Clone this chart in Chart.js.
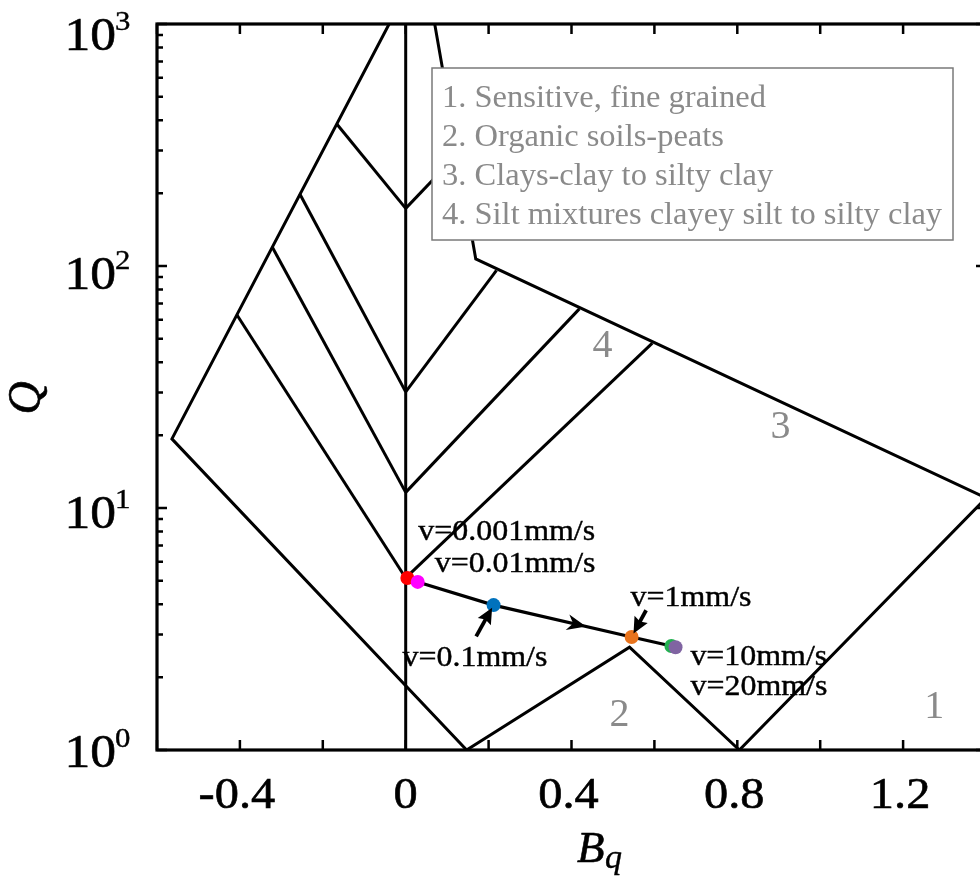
<!DOCTYPE html>
<html><head><meta charset="utf-8">
<script src="https://cdn.jsdelivr.net/npm/chart.js@4.4.0/dist/chart.umd.min.js"></script>
<style>
html,body{margin:0;padding:0;overflow:hidden;background:#fff;width:980px;height:878px}
#wrap{position:relative;width:1000px;height:878px}
canvas{display:block}
</style></head>
<body><div id="wrap"><canvas id="c" width="1000" height="878"></canvas></div>
<script>
// ---------------- data ----------------
// outer boundary polyline of the Robertson Bq chart
const outerBq = [-0.04, -0.564, 0.147, 0.540, 0.805, 1.40, 0.169, 0.070];
const outerQ  = [1000, 19.3, 1, 2.66, 1, 11.0, 107, 1000];
// vertical Bq = 0 line
const zeroLineBq = [0, 0];
const zeroLineQ  = [1, 1000];
// left fan lines: start on left boundary, end on Bq = 0
const leftFanBq = [-0.407, -0.322, -0.2554, -0.1663];
const leftFanQ  = [62.7, 119.8, 198.4, 386];
const fanVertexQ = [5.14, 11.6, 30.2, 173];
// right fan lines: start on Bq = 0, end on upper boundary
const rightFanBq = [0.595, 0.419, 0.219, 0.1246];
const rightFanQ  = [48.0, 66.5, 96.0, 289.5];
// test path points
const velocityLabels = ['v=0.001mm/s','v=0.01mm/s','v=0.1mm/s','v=1mm/s','v=10mm/s','v=20mm/s'];
const testBq = [0.004, 0.029, 0.212, 0.545, 0.641, 0.651];
const testQ  = [5.14, 4.95, 3.97, 2.93, 2.69, 2.66];
const pointColors = ['#ff0000','#ff00ff','#0072bd','#e8731c','#22b050','#8064a2'];
// zones
const zoneNumbers = ['1','2','3','4'];
const zoneNames = ['1. Sensitive, fine grained','2. Organic soils-peats','3. Clays-clay to silty clay','4. Silt mixtures clayey silt to silty clay'];
// ticks
const xTickValues = [-0.6,-0.4,-0.2,0,0.2,0.4,0.6,0.8,1.0,1.2,1.4];
const xTickLabels = ['','-0.4','','0','','0.4','','0.8','','1.2',''];
const yDecades = [0,1,2,3];

// ---------------- helpers ----------------
const FONT = '"Liberation Serif","Times New Roman",serif';
function pts(xs, ys){ return xs.map((v,i)=>({x:v,y:ys[i]})); }
function txt(ctx, s, x, y, size, o){
  o = o || {};
  ctx.save();
  ctx.font = (o.italic?'italic ':'') + size + 'px ' + FONT;
  ctx.fillStyle = o.color || '#000';
  ctx.textAlign = o.align || 'left';
  ctx.textBaseline = o.baseline || 'alphabetic';
  ctx.translate(x, y);
  if (o.rot) ctx.rotate(o.rot);
  ctx.scale(o.sx || 1, 1);
  ctx.fillText(s, 0, 0);
  if (o.bold) { ctx.strokeStyle = o.color || '#000'; ctx.lineWidth = o.bold; ctx.strokeText(s, 0, 0); }
  ctx.restore();
}
function arrowHead(ctx, tipX, tipY, dx, dy, len, half, notch){
  const L = Math.hypot(dx,dy); const ux=dx/L, uy=dy/L; const nx=-uy, ny=ux;
  const bx = tipX-ux*len, by = tipY-uy*len;
  ctx.beginPath();
  ctx.moveTo(tipX,tipY);
  ctx.lineTo(bx+nx*half, by+ny*half);
  ctx.lineTo(tipX-ux*len*(1-notch), tipY-uy*len*(1-notch));
  ctx.lineTo(bx-nx*half, by-ny*half);
  ctx.closePath();
  ctx.fill();
}

const datasets = [];
datasets.push({data: pts(testBq, testQ), showLine:true, borderColor:'#000', borderWidth:3.2,
  pointRadius:7, pointBorderWidth:0, pointBackgroundColor:pointColors, pointBorderColor:pointColors, order:0});
const lineStyle = {showLine:true, borderColor:'#000', borderWidth:3, pointRadius:0, order:1, borderJoinStyle:'miter'};
datasets.push(Object.assign({data: pts(outerBq, outerQ)}, lineStyle));
datasets.push(Object.assign({data: pts(zeroLineBq, zeroLineQ)}, lineStyle));
leftFanBq.forEach((b,i)=>datasets.push(Object.assign({data:[{x:b,y:leftFanQ[i]},{x:0,y:fanVertexQ[i]}]}, lineStyle)));
rightFanBq.forEach((b,i)=>datasets.push(Object.assign({data:[{x:0,y:fanVertexQ[i]},{x:b,y:rightFanQ[i]}]}, lineStyle)));

const decor = {
  id:'decor',
  afterDatasetsDraw(chart){
    const ctx = chart.ctx, a = chart.chartArea, X = chart.scales.x, Y = chart.scales.y;
    ctx.save();
    ctx.strokeStyle = '#000';
    // ticks
    ctx.lineWidth = 2.5;
    ctx.beginPath();
    xTickValues.forEach(v=>{
      const px = X.getPixelForValue(v);
      ctx.moveTo(px, a.bottom); ctx.lineTo(px, a.bottom-10);
      ctx.moveTo(px, a.top); ctx.lineTo(px, a.top+10);
    });
    yDecades.forEach(e=>{
      for (let m=1;m<10;m++){
        const v = m*Math.pow(10,e); if (v>1000) break;
        const py = Y.getPixelForValue(v); const L = m===1?10:6;
        ctx.moveTo(a.left, py); ctx.lineTo(a.left+L, py);
        ctx.moveTo(a.right, py); ctx.lineTo(a.right-L, py);
      }
    });
    ctx.stroke();
    // frame
    ctx.lineWidth = 3.2;
    ctx.strokeRect(a.left, a.top, a.right-a.left, a.bottom-a.top);
    ctx.restore();

    // x tick labels
    xTickValues.forEach((v,i)=>{
      if (!xTickLabels[i]) return;
      txt(ctx, xTickLabels[i], X.getPixelForValue(v) - (xTickLabels[i].length>1?3:0), 808, 44, {align:'center', sx:1.1, bold:0.6});
    });
    // y tick labels 10^n
    yDecades.forEach(e=>{
      const py = Y.getPixelForValue(Math.pow(10,e));
      const base = py + 17 + (a.bottom-py)*0.0124;
      txt(ctx, '10', a.left-41, base, 46, {align:'right', sx:1.12, bold:0.6});
      txt(ctx, String(e), a.left-42, base-20, 28, {align:'left', sx:1.1, bold:0.4});
    });
    // axis titles
    txt(ctx, 'Q', 40, 398, 46, {italic:true, align:'center', rot:-Math.PI/2, bold:0.6});
    txt(ctx, 'B', 577, 862, 45, {italic:true, bold:0.6});
    txt(ctx, 'q', 605, 868, 34, {italic:true, bold:0.4});

    // legend box
    const lx = a.left+275, ly = a.top+44, lw = 521, lh = 172;
    ctx.save();
    ctx.fillStyle = '#fff'; ctx.fillRect(lx, ly, lw, lh);
    ctx.strokeStyle = '#7a7a7a'; ctx.lineWidth = 1.5; ctx.strokeRect(lx, ly, lw, lh);
    ctx.restore();
    zoneNames.forEach((s,i)=>{
      txt(ctx, s, lx+10, ly+39+i*39, 32.5, {color:'#8a8a8a'});
    });

    // zone numbers (anchored in data space)
    const zoneAnchor = {'1':[1.275,1.505], '2':[0.516,1.395], '3':[0.904,21.6], '4':[0.475,46.7]};
    zoneNumbers.forEach(n=>{
      const p = zoneAnchor[n];
      txt(ctx, n, X.getPixelForValue(p[0]), Y.getPixelForValue(p[1]), 40, {align:'center', baseline:'middle', color:'#8a8a8a'});
    });

    // velocity labels, offset from their points
    const off = [[11,-38],[17,-10],[-91,61],[-1,-31],[19,19],[15,48]];
    velocityLabels.forEach((s,i)=>{
      const px = X.getPixelForValue(testBq[i]), py = Y.getPixelForValue(testQ[i]);
      txt(ctx, s, px+off[i][0], py+off[i][1], 28.5, {sx:1.12, bold:0.4});
    });

    // pointer arrows
    ctx.save();
    ctx.fillStyle = '#000'; ctx.strokeStyle = '#000'; ctx.lineWidth = 3.8; ctx.lineCap='butt';
    const pointer = (i, tailBq, tailQ, gap)=>{
      const tx = X.getPixelForValue(tailBq), ty = Y.getPixelForValue(tailQ);
      const hx = X.getPixelForValue(testBq[i]), hy = Y.getPixelForValue(testQ[i]);
      const dx = hx-tx, dy = hy-ty, L = Math.hypot(dx,dy);
      const tipX = hx - dx/L*gap, tipY = hy - dy/L*gap;
      ctx.beginPath(); ctx.moveTo(tx,ty); ctx.lineTo(tipX-dx/L*10, tipY-dy/L*10); ctx.stroke();
      arrowHead(ctx, tipX, tipY, dx, dy, 16, 7.5, 0.15);
    };
    pointer(2, 0.170, 2.95, 3);
    pointer(3, 0.580, 3.78, 4);
    // mid-line arrow on blue -> orange
    const bx = X.getPixelForValue(testBq[2]), by = Y.getPixelForValue(testQ[2]);
    const ox = X.getPixelForValue(testBq[3]), oy = Y.getPixelForValue(testQ[3]);
    const t = 0.67;
    arrowHead(ctx, bx+(ox-bx)*t, by+(oy-by)*t, ox-bx, oy-by, 19, 8, 0.3);
    ctx.restore();
  }
};

new Chart(document.getElementById('c'), {
  type:'scatter',
  data:{datasets},
  options:{
    responsive:false, animation:false, events:[], devicePixelRatio:1,
    layout:{padding:{left:157, right:14, top:24, bottom:128}},
    plugins:{legend:{display:false}, tooltip:{enabled:false}},
    scales:{
      x:{type:'linear', min:-0.6, max:1.4, display:false},
      y:{type:'logarithmic', min:1, max:1000, display:false}
    }
  },
  plugins:[decor]
});
</script>
</body></html>
